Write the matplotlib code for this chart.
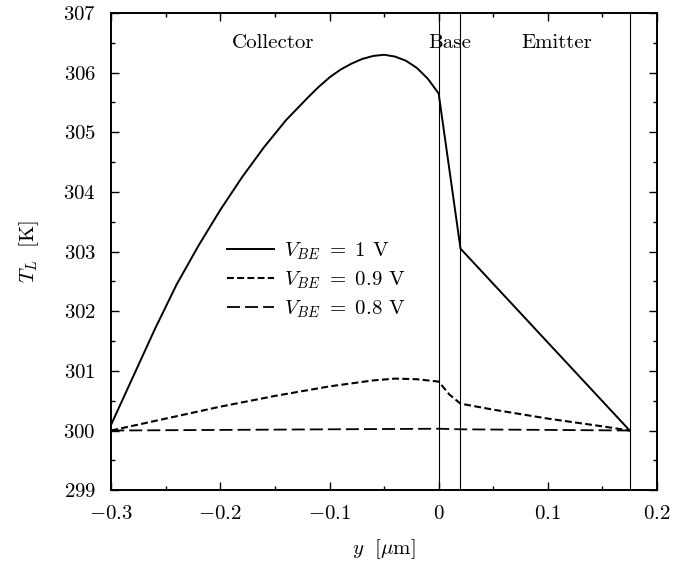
import numpy as np
import matplotlib
matplotlib.use("Agg")
import matplotlib.pyplot as plt
from matplotlib.ticker import MultipleLocator

plt.rcParams['font.family'] = 'serif'
plt.rcParams['font.serif'] = ['cmr10', 'DejaVu Serif']
plt.rcParams['mathtext.fontset'] = 'cm'
plt.rcParams['axes.formatter.use_mathtext'] = True

# lattice temperature along y for three base-emitter voltages
y_10 = [-0.3, -0.28, -0.26, -0.24, -0.22, -0.2, -0.18, -0.16, -0.14, -0.12,
        -0.11, -0.10, -0.09, -0.08, -0.07, -0.06, -0.05, -0.04, -0.03, -0.02,
        -0.01, 0.0, 0.02, 0.175]
T_10 = [300.1, 300.9, 301.7, 302.45, 303.1, 303.7, 304.25, 304.75, 305.2, 305.58,
        305.76, 305.92, 306.05, 306.15, 306.23, 306.28, 306.3, 306.27, 306.2, 306.08,
        305.9, 305.65, 303.05, 300.0]

y_09 = [-0.3, -0.25, -0.2, -0.15, -0.1, -0.06, -0.04, -0.02, 0.0, 0.01, 0.02,
        0.05, 0.1, 0.15, 0.175]
T_09 = [300.0, 300.2, 300.4, 300.58, 300.74, 300.84, 300.87, 300.86, 300.82,
        300.6, 300.45, 300.35, 300.2, 300.07, 300.0]

y_08 = [-0.3, -0.2, -0.1, 0.0, 0.02, 0.1, 0.175]
T_08 = [300.0, 300.01, 300.02, 300.03, 300.02, 300.01, 300.0]

# region boundaries: collector/base, base/emitter, emitter contact
bounds = [0.0, 0.02, 0.175]
regions = ["Collector", "Base", "Emitter"]
region_x = [-0.152, 0.0105, 0.108]

fig = plt.figure(figsize=(6.78, 5.66), dpi=100)
ax = fig.add_axes([0.164, 0.134, 0.805, 0.843])

ax.plot(y_10, T_10, color='black', lw=1.4, label=r'$V_{BE}\ =\ 1$ V')
ax.plot(y_09, T_09, color='black', lw=1.5, dashes=(3.3, 1.6), label=r'$V_{BE}\ =\ 0.9$ V')
ax.plot(y_08, T_08, color='black', lw=1.3, dashes=(7.2, 2.8), label=r'$V_{BE}\ =\ 0.8$ V')

for b in bounds:
    ax.axvline(b, color='black', lw=0.8)

for name, xp in zip(regions, region_x):
    ax.text(xp, 306.5, name, ha='center', va='center', fontsize=15)

ax.set_xlim(-0.3, 0.2)
ax.set_ylim(299, 307)
ax.xaxis.set_major_locator(MultipleLocator(0.1))
ax.xaxis.set_minor_locator(MultipleLocator(0.05))
ax.yaxis.set_major_locator(MultipleLocator(1))
ax.yaxis.set_minor_locator(MultipleLocator(0.5))
ax.tick_params(which='both', direction='in', top=True, right=True, labelsize=15, width=1)
ax.tick_params(which='major', length=6, pad=11)
ax.tick_params(which='minor', length=3)
ax.set_xticks([-0.3, -0.2, -0.1, 0, 0.1, 0.2])
ax.set_xticklabels(['$-0.3$', '$-0.2$', '$-0.1$', '$0$', '$0.1$', '$0.2$'])
for s in ax.spines.values():
    s.set_linewidth(1.4)

ax.set_xlabel(r'$y\ \ [\mu$m$]$', fontsize=15, labelpad=10)
ax.set_ylabel(r'$T_L\ \ [$K$]$', fontsize=15, labelpad=16)

ax.legend(loc='center left', bbox_to_anchor=(0.2125, 0.44), frameon=False, fontsize=15,
          borderpad=0, borderaxespad=0, handlelength=2.25, labelspacing=0.35,
          handletextpad=0.5)

fig.savefig("out.png", dpi=100)
